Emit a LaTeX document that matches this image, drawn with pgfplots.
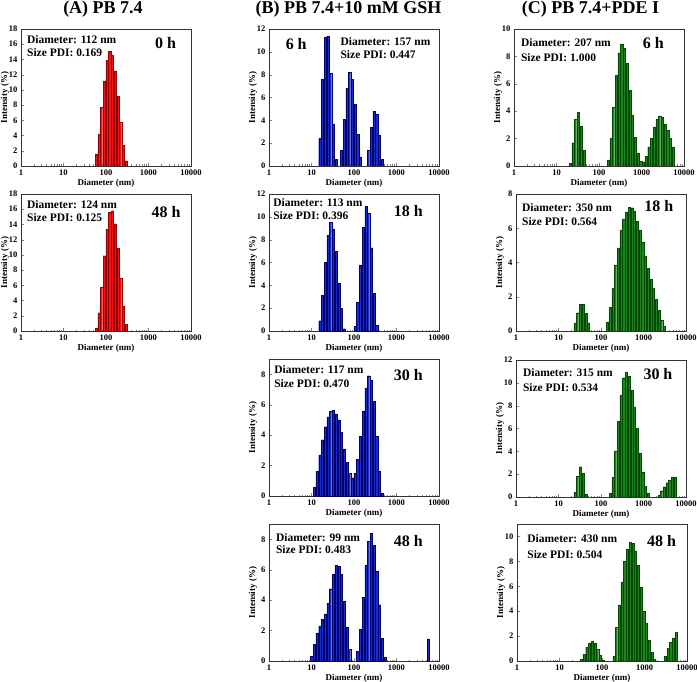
\documentclass[border=0pt]{standalone}
\usepackage{fontspec}
\setmainfont{Liberation Serif}
\usepackage{pgfplots}
\pgfplotsset{compat=1.18}
\definecolor{rfill}{RGB}{240,20,20}
\definecolor{rdraw}{RGB}{150,0,0}
\definecolor{bfill}{RGB}{25,45,200}
\definecolor{bdraw}{RGB}{0,0,110}
\definecolor{gfill}{RGB}{30,130,30}
\definecolor{gdraw}{RGB}{0,75,0}
\pgfkeys{/pgf/number format/assume math mode=true}
\pgfplotsset{
  every axis/.append style={
    xmin=1, xmax=10000, ymin=0,
    width=170pt, height=137pt, scale only axis,
    xtick={1,10,100,1000,10000}, xticklabels={1,10,100,1000,10000},
    tick align=inside, xtick pos=left, ytick pos=left,
    major tick length=3pt, minor tick length=1.5pt,
    ticklabel style={font=\bfseries\fontsize{8.5}{9}\selectfont},
    xlabel={Diameter (nm)}, ylabel={Intensity (\%)},
    axis line style={line width=0.8pt, black!80},
    anchor=north west,
  },
  every axis label/.append style={font=\bfseries\fontsize{9}{10}\selectfont},
  every axis x label/.style={at={(axis description cs:0.5,0)}, yshift=-17pt, anchor=center},
  every axis y label/.style={at={(axis description cs:0,0.5)}, xshift=-16pt, rotate=90, anchor=center},
  rbar/.style={ybar, bar width=2.2pt, fill=rfill, draw=rdraw, line width=0.3pt},
  bbar/.style={ybar, bar width=2.2pt, fill=bfill, draw=bdraw, line width=0.3pt},
  gbar/.style={ybar, bar width=2.2pt, fill=gfill, draw=gdraw, line width=0.3pt},
}
\newcommand{\ann}[8]{%
  \node[anchor=west, font=\bfseries\fontsize{11.5}{12}\selectfont, inner sep=0pt] at (rel axis cs:#1,#2) {Diameter: #4};
  \node[anchor=west, font=\bfseries\fontsize{11.5}{12}\selectfont, inner sep=0pt] at (rel axis cs:#1,#3) {Size PDI: #5};
  \node[anchor=center, font=\bfseries\fontsize{16}{18}\selectfont, inner sep=0pt] at (rel axis cs:#6,#7) {#8};
}
\begin{document}
\begin{tikzpicture}
\useasboundingbox (0pt,0pt) rectangle (697pt,-682pt);
\node[font=\bfseries\fontsize{18}{20}\selectfont] at (103pt,-9.5pt) {(A) PB 7.4};
\node[font=\bfseries\fontsize{18}{20}\selectfont] at (348.5pt,-9.5pt) {(B) PB 7.4+10 mM GSH};
\node[font=\bfseries\fontsize{18}{20}\selectfont] at (590.5pt,-9.5pt) {(C) PB 7.4+PDE I};

% ---------- A1 ----------
\begin{semilogxaxis}[at={(21pt,-29pt)}, ymax=18, ytick={0,2,...,18}]
\addplot[rbar] coordinates {(58.77,1.6)(68.06,4.2)(78.82,7.7)(91.28,11.2)(105.7,13.9)(122.4,15.1)(141.8,14.5)(164.2,12.5)(190.1,9.2)(220.2,5.7)(255.0,2.7)(295.3,0.7)};
\ann{0.035}{0.92}{0.825}{112 nm}{0.169}{0.85}{0.9}{0 h}
\end{semilogxaxis}
% ---------- A2 ----------
\begin{semilogxaxis}[at={(21pt,-194pt)}, ymax=18, ytick={0,2,...,18}]
\addplot[rbar] coordinates {(58.77,0.4)(68.06,2.4)(78.82,5.8)(91.28,9.9)(105.7,13.4)(122.4,15.6)(141.8,15.8)(164.2,14.1)(190.1,10.9)(220.2,6.9)(255.0,3.3)(295.3,0.9)};
\ann{0.035}{0.92}{0.825}{124 nm}{0.125}{0.853}{0.87}{48 h}
\end{semilogxaxis}

% ---------- B1 ----------
\begin{semilogxaxis}[at={(269pt,-29pt)}, ymax=12, ytick={0,2,...,12}]
\addplot[bbar] coordinates {(15.69,2.4)(18.17,7.6)(21.04,11.3)(24.36,11.4)(28.21,8.1)(32.67,3.7)(37.84,0.6)
(50.75,1.4)(58.77,4.1)(68.06,6.8)(78.82,8.2)(91.28,7.6)(105.7,5.4)(122.4,2.8)(141.8,0.8)
(220.2,1.4)(255.0,3.4)(295.3,4.8)(342.0,4.5)(396.1,2.7)(458.7,0.6)};
\ann{0.42}{0.905}{0.81}{157 nm}{0.447}{0.16}{0.89}{6 h}
\end{semilogxaxis}
% ---------- B2 ----------
\begin{semilogxaxis}[at={(269pt,-194pt)}, ymax=12, ytick={0,2,...,12}]
\addplot[bbar] coordinates {(15.69,0.9)(18.17,3.1)(21.04,6.0)(24.36,8.4)(28.21,9.5)(32.67,8.9)(37.84,7.0)(43.82,4.2)(50.75,2.0)(58.77,0.2)
(105.7,0.4)(122.4,2.5)(141.8,5.8)(164.2,9.1)(190.1,10.9)(220.2,10.3)(255.0,7.3)(295.3,3.3)(342.0,0.5)};
\ann{0.024}{0.94}{0.84}{113 nm}{0.396}{0.82}{0.875}{18 h}
\end{semilogxaxis}
% ---------- B3 ----------
\begin{semilogxaxis}[at={(269pt,-359pt)}, ymax=9, ytick={0,2,4,6,8}]
\addplot[bbar] coordinates {(11.70,0.55)(13.54,1.6)(15.69,2.7)(18.17,3.7)(21.04,4.55)(24.36,5.2)(28.21,5.55)(32.67,5.65)(37.84,5.4)(43.82,5.0)(50.75,4.2)(58.77,3.1)(68.06,2.2)(78.82,1.5)(91.28,1.2)(105.7,1.5)(122.4,2.4)(141.8,3.9)(164.2,5.6)(190.1,7.1)(220.2,7.9)(255.0,7.6)(295.3,6.2)(342.0,3.9)(396.1,1.6)(458.7,0.2)};
\ann{0.03}{0.92}{0.82}{117 nm}{0.470}{0.82}{0.88}{30 h}
\end{semilogxaxis}
% ---------- B4 ----------
\begin{semilogxaxis}[at={(269pt,-524pt)}, ymax=9, ytick={0,2,4,6,8}]
\addplot[bbar] coordinates {(10.10,0.3)(11.70,1.1)(13.54,1.85)(15.69,2.3)(18.17,2.75)(21.04,3.1)(24.36,3.8)(28.21,4.75)(32.67,5.7)(37.84,6.3)(43.82,6.2)(50.75,5.7)(58.77,3.9)(68.06,2.2)(78.82,0.75)
(122.4,0.65)(141.8,2.1)(164.2,4.2)(190.1,6.3)(220.2,7.85)(255.0,8.4)(295.3,7.6)(342.0,5.9)(396.1,3.7)(458.7,1.5)(531.2,0.25)
(5560,1.45)};
\ann{0.04}{0.90}{0.81}{99 nm}{0.483}{0.82}{0.875}{48 h}
\end{semilogxaxis}

% ---------- C1 ----------
\begin{semilogxaxis}[at={(514pt,-29pt)}, ymax=10, ytick={0,2,...,10}]
\addplot[gbar] coordinates {(21.04,0.2)(24.36,1.7)(28.21,3.4)(32.67,3.9)(37.84,2.9)(43.82,1.15)
(164.2,0.45)(190.1,2.0)(220.2,4.3)(255.0,6.6)(295.3,8.25)(342.0,8.9)(396.1,8.6)(458.7,7.5)(531.2,5.55)(615.1,3.7)(712.4,2.1)(825.0,0.95)(955.4,0.35)(1106,0.3)(1281,0.7)(1484,1.4)
(1718,2.05)(1990,2.85)(2305,3.4)(2669,3.65)(3091,3.55)(3580,3.05)(4145,2.6)(4801,2.0)(5560,1.4)};
\ann{0.04}{0.9}{0.79}{207 nm}{1.000}{0.82}{0.9}{6 h}
\end{semilogxaxis}
% ---------- C2 ----------
\begin{semilogxaxis}[at={(516pt,-194pt)}, ymax=8, ytick={0,2,...,8}]
\addplot[gbar] coordinates {(24.36,0.43)(28.21,1.07)(32.67,1.55)(37.84,1.55)(43.82,1.05)(50.75,0.47)
(141.8,0.53)(164.2,1.4)(190.1,2.48)(220.2,3.85)(255.0,4.85)(295.3,5.9)(342.0,6.55)(396.1,6.95)(458.7,7.22)(531.2,7.2)(615.1,6.97)(712.4,6.42)(825.0,5.9)(955.4,5.2)(1106,4.4)(1281,3.65)(1484,3.0)(1718,2.5)(1990,1.85)(2305,1.2)(2669,0.62)(3091,0.27)};
\ann{0.035}{0.9}{0.8}{350 nm}{0.564}{0.84}{0.91}{18 h}
\end{semilogxaxis}
% ---------- C3 ----------
\begin{semilogxaxis}[at={(516pt,-360pt)}, ymax=12, ytick={0,2,...,12}]
\addplot[gbar] coordinates {(24.36,0.4)(28.21,1.8)(32.67,2.65)(37.84,2.1)(43.82,0.25)
(164.2,0.3)(190.1,1.75)(220.2,4.05)(255.0,6.65)(295.3,8.9)(342.0,10.45)(396.1,10.95)(458.7,10.6)(531.2,9.35)(615.1,7.9)(712.4,6.0)(825.0,3.85)(955.4,2.2)(1106,0.95)(1281,0.3)
(2305,0.15)(2669,0.55)(3091,0.9)(3580,1.25)(4145,1.5)(4801,1.7)(5560,1.7)};
\ann{0.04}{0.905}{0.8}{315 nm}{0.534}{0.835}{0.9}{30 h}
\end{semilogxaxis}
% ---------- C4 ----------
\begin{semilogxaxis}[at={(517pt,-524pt)}, ymax=11, ytick={0,2,...,10}]
\addplot[gbar] coordinates {(32.67,0.15)(37.84,0.55)(43.82,1.1)(50.75,1.45)(58.77,1.6)(68.06,1.4)(78.82,0.95)(91.28,0.45)(105.7,0.1)
(190.1,0.4)(220.2,2.7)(255.0,4.5)(295.3,6.35)(342.0,8.0)(396.1,9.0)(458.7,9.55)(531.2,9.45)(615.1,8.85)(712.4,7.7)(825.0,5.9)(955.4,4.0)(1106,3.0)(1281,1.65)(1484,0.7)(1718,0.15)
(3091,0.4)(3580,1.0)(4145,1.5)(4801,1.85)(5560,2.3)};
\ann{0.06}{0.89}{0.78}{430 nm}{0.504}{0.85}{0.875}{48 h}
\end{semilogxaxis}
\end{tikzpicture}
\end{document}
